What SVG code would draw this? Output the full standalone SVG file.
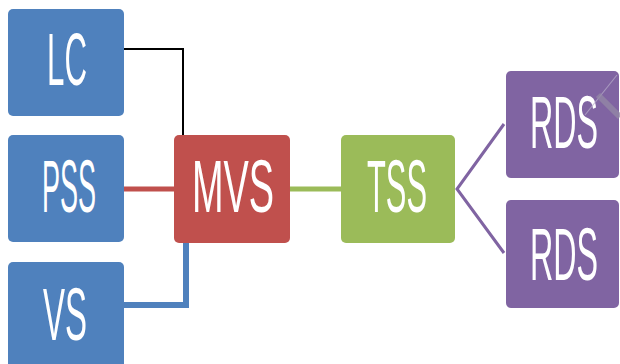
<svg xmlns="http://www.w3.org/2000/svg" width="620" height="364" viewBox="0 0 620 364">
<style>
.lbl{font-family:"Liberation Sans",Arial,sans-serif;font-size:75px;fill:#fff;text-anchor:middle}
.blue{fill:#4F81BD}.red{fill:#C0504D}.green{fill:#9BBB59}.purple{fill:#8064A2}
.c{fill:none}
</style>
<rect width="620" height="364" fill="#fff"/>
<g id="connectors">
<polyline class="c" points="89,49 183,49 183,137" stroke="#000" stroke-width="2"/>
<line x1="124" y1="189" x2="175" y2="189" stroke="#C0504D" stroke-width="5"/>
<polyline class="c" points="124,305 186,305 186,240" stroke="#4F81BD" stroke-width="6"/>
<line x1="290" y1="189" x2="341" y2="189" stroke="#9BBB59" stroke-width="5"/>
<polyline class="c" points="504,124 457,189 504,253" stroke="#8064A2" stroke-width="3"/>
</g>
<g id="LC"><rect class="blue" x="8" y="9" width="116" height="107" rx="5"/><text class="lbl" transform="translate(67,85) scale(0.417,1)">LC</text></g>
<g id="PSS"><rect class="blue" x="8" y="135" width="116" height="107" rx="5"/><text class="lbl" transform="translate(69,212) scale(0.36,1)">PSS</text></g>
<g id="VS"><rect class="blue" x="8" y="262" width="116" height="110" rx="5"/><text class="lbl" transform="translate(65,340) scale(0.44,1)">VS</text></g>
<g id="MVS"><rect class="red" x="174" y="135" width="116" height="108" rx="5"/><text class="lbl" transform="translate(233,212) scale(0.505,1)">MVS</text></g>
<g id="TSS"><rect class="green" x="341" y="135" width="114" height="108" rx="5"/><text class="lbl" transform="translate(397,212) scale(0.411,1)">TSS</text></g>
<g id="RDS1"><rect class="purple" x="506" y="71" width="113" height="107" rx="5"/><text class="lbl" transform="translate(564,148) scale(0.43,1)">RDS</text>
<line x1="617" y1="75" x2="585" y2="115" stroke="#b8aecb" stroke-width="1.2" opacity="0.7"/>
<line x1="598" y1="95" x2="620" y2="117" stroke="#958aa6" stroke-width="6" opacity="0.75"/></g>
<g id="RDS2"><rect class="purple" x="506" y="200" width="113" height="108" rx="5"/><text class="lbl" transform="translate(564,280) scale(0.43,1)">RDS</text></g>
</svg>
